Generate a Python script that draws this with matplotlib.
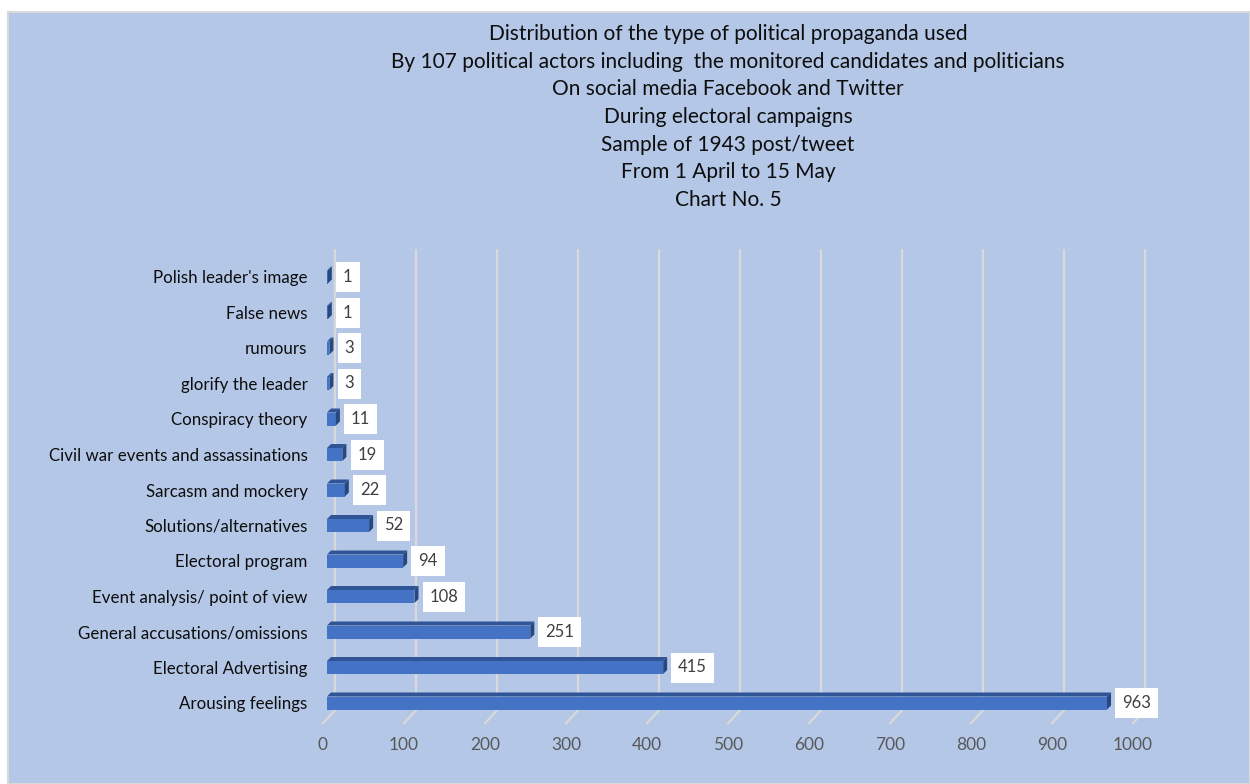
import numpy as np
import matplotlib
matplotlib.use("Agg")
import matplotlib.pyplot as plt
from matplotlib.patches import Polygon, Rectangle
from matplotlib.transforms import ScaledTranslation

# data, bottom to top
categories = ["Arousing feelings", "Electoral Advertising", "General accusations/omissions",
              "Event analysis/ point of view", "Electoral program", "Solutions/alternatives",
              "Sarcasm and mockery", "Civil war events and assassinations", "Conspiracy theory",
              "glorify the leader", "rumours", "False news", "Polish leader's image"]
values = [963, 415, 251, 108, 94, 52, 22, 19, 11, 3, 3, 1, 1]
x_ticks = list(range(0, 1001, 100))

title_lines = ["Distribution of the type of political propaganda used",
               "By 107 political actors including  the monitored candidates and politicians",
               "On social media Facebook and Twitter",
               "During electoral campaigns",
               "Sample of 1943 post/tweet",
               "From 1 April to 15 May",
               "Chart No. 5"]

plt.rcParams['font.family'] = ['Lato', 'DejaVu Sans']

W, H = 1250, 784
fig = plt.figure(figsize=(W / 100, H / 100), dpi=100, facecolor="white")

# light blue chart panel
fig.patches.append(Rectangle((8 / W, 0), 1242 / W, 772 / H, transform=fig.transFigure,
                             facecolor="#b4c7e7", edgecolor="#d9d9d9", lw=1.5, zorder=-10))

ax = fig.add_axes([327 / W, 1 - 720.75 / H, 810 / W, 461.5 / H])
ax.set_facecolor("none")
ax.set_xlim(0, 1000)
ax.set_ylim(-0.5, len(categories) - 0.5)
for s in ax.spines.values():
    s.set_visible(False)

px_x = 1000 / 810       # data units per pixel (x)
px_y = 1 / 35.5         # data units per pixel (y)

# back wall gridlines with floor diagonals
y_top = len(categories) - 0.5 + 9 * px_y
y_bot = -0.5 + 10.5 * px_y
for t in x_ticks:
    gx = t + 8 * px_x
    ax.plot([gx, gx, t - 4 * px_x], [y_top, y_bot, -0.5 - 2.5 * px_y],
            color="#d9d9d9", lw=1.6, zorder=1, clip_on=False, solid_joinstyle="miter")

# 3d-ish bars
bh = 13 * px_y
dx, dy = 4 * px_x, 4 * px_y
ys = np.arange(len(categories))
ax.barh(ys, values, height=bh, color="#4472c4", edgecolor="none", zorder=3)
for y, v in zip(ys, values):
    top = y + bh / 2
    ax.add_patch(Polygon([[0, top], [v, top], [v + dx, top + dy], [dx, top + dy]],
                         closed=True, facecolor="#2f5597", edgecolor="none", zorder=3))
    ax.add_patch(Polygon([[v, top], [v + dx, top + dy], [v + dx, top + dy - bh], [v, top - bh]],
                         closed=True, facecolor="#27477f", edgecolor="none", zorder=3))
    ax.annotate(str(v), xy=(v + dx, y), xytext=(8, 0), textcoords="offset points",
                ha="left", va="center", fontsize=12, color="#404040", zorder=4,
                bbox=dict(boxstyle="square,pad=0.42", facecolor="white", edgecolor="none"))

ax.set_yticks(ys)
ax.set_yticklabels(categories, fontsize=12.2, color="#0d0d0d")
ax.tick_params(axis="y", length=0, pad=14)
ax.set_xticks(x_ticks)
ax.set_xticklabels([str(t) for t in x_ticks], fontsize=12.5, color="#595959")
ax.tick_params(axis="x", length=0, pad=12)
for lab in ax.get_xticklabels():
    lab.set_transform(lab.get_transform() + ScaledTranslation(-4 / 100, 0, fig.dpi_scale_trans))

for i, line in enumerate(title_lines):
    fig.text(728 / W, 1 - (34 + i * 27.7) / H, line, ha="center", va="center",
             fontsize=15, color="#0d0d0d")

fig.savefig("out.png", dpi=100, facecolor="white")
